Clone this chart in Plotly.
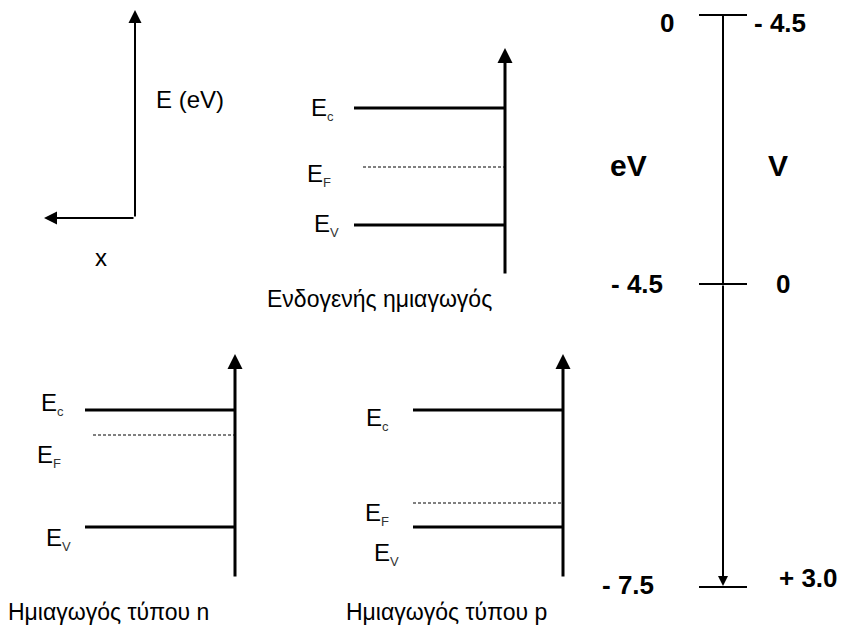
import plotly.graph_objects as go

W, H = 842, 632
FONT = "Liberation Sans, Arial, sans-serif"

# ---- reference axes (top-left) ----
ref_origin = (135, 218)
ref_y_tip = 10
ref_x_tip = 44
ref_labels = ["E (eV)", "x"]
ref_label_pos = [(154, 99), (101, 257)]

# ---- band diagrams ----
panel_captions = ["Ενδογενής ημιαγωγός", "Ημιαγωγός τύπου n", "Ημιαγωγός τύπου p"]
panel_axis_x = [505, 235, 563]
panel_axis_top = [48, 354, 354]
panel_axis_bottom = [275, 578, 578]
panel_level_x0 = [354, 85, 413]
panel_ef_x0 = [363, 93, 413]
Ec_levels = [108, 410, 410]
EF_levels = [167, 435, 503]
Ev_levels = [225, 527, 527]
caption_pos = [(379, 299), (108, 612), (446, 612)]
# label anchors (left of "E", vertical centre of "E")
Ec_label_pos = [(309, 105), (39, 400), (364, 415)]
EF_label_pos = [(305, 171), (35, 452), (363, 510)]
Ev_label_pos = [(312, 221), (44, 535), (372, 550)]
level_names = ["c", "F", "V"]

# ---- energy / potential scale (right) ----
scale_x = 723
scale_top = 15
scale_bottom = 586
scale_tick_y = [15, 284, 587]
scale_tick_half = 24
eV_ticks = ["0", "- 4.5", "- 7.5"]
V_ticks = ["- 4.5", "0", "+ 3.0"]
eV_tick_x = [667, 637, 628]
V_tick_x = [780, 783, 808]
eV_tick_label_y = [23, 284, 585]
V_tick_label_y = [23, 284, 578]
scale_titles = ["eV", "V"]
scale_title_pos = [(628, 165), (778, 165)]

fig = go.Figure()
ann = []


def line(xs, ys, width=2, dash="solid"):
    fig.add_trace(go.Scatter(x=xs, y=ys, mode="lines",
                             line=dict(color="black", width=width, dash=dash),
                             hoverinfo="skip", showlegend=False))


def arrow(x0, y0, x1, y1, width=2, size=1.0):
    ann.append(dict(x=x1, y=y1, ax=x0, ay=y0, xref="x", yref="y", axref="x", ayref="y",
                    showarrow=True, arrowhead=2, arrowsize=size, arrowwidth=width,
                    arrowcolor="black", standoff=0, startstandoff=0, text=""))


def text(x, y, s, size=22, bold=False, xanchor="center", yanchor="middle"):
    ann.append(dict(x=x, y=y, xref="x", yref="y", text=("<b>%s</b>" % s) if bold else s,
                    showarrow=False, xanchor=xanchor, yanchor=yanchor,
                    font=dict(family=FONT, size=size, color="black")))


# reference axes
ox, oy = ref_origin
arrow(ox, oy, ox, ref_y_tip, width=2, size=1.3)
arrow(ox, oy, ref_x_tip, oy, width=2, size=1.3)
text(ref_label_pos[0][0], ref_label_pos[0][1], ref_labels[0], size=24, xanchor="left")
text(ref_label_pos[1][0], ref_label_pos[1][1], ref_labels[1], size=24)

# panels
for i in range(3):
    ax_x = panel_axis_x[i]
    arrow(ax_x, panel_axis_bottom[i], ax_x, panel_axis_top[i], width=3, size=1.0)
    line([panel_level_x0[i], ax_x], [Ec_levels[i], Ec_levels[i]], width=3)
    line([panel_level_x0[i], ax_x], [Ev_levels[i], Ev_levels[i]], width=3)
    line([panel_ef_x0[i], ax_x], [EF_levels[i], EF_levels[i]], width=1, dash="3px,2px")
    for pos, sub in zip([Ec_label_pos[i], EF_label_pos[i], Ev_label_pos[i]], level_names):
        text(pos[0], pos[1] + 4,
             "E<sub><span style='font-size:13px;color:#333'>%s</span></sub>" % sub,
             size=24, xanchor="left")
    text(caption_pos[i][0], caption_pos[i][1], panel_captions[i], size=23)

# right scale
line([scale_x, scale_x], [scale_top, scale_tick_y[1]], width=2)
arrow(scale_x, scale_tick_y[1], scale_x, scale_bottom, width=2, size=1.0)
for j, ty in enumerate(scale_tick_y):
    line([scale_x - scale_tick_half, scale_x + scale_tick_half], [ty, ty], width=2)
    text(eV_tick_x[j], eV_tick_label_y[j], eV_ticks[j], size=26, bold=True)
    text(V_tick_x[j], V_tick_label_y[j], V_ticks[j], size=26, bold=True)
for (tx, ty), s in zip(scale_title_pos, scale_titles):
    text(tx, ty, s, size=30, bold=True)

fig.update_layout(
    width=W, height=H, margin=dict(l=0, r=0, t=0, b=0),
    paper_bgcolor="white", plot_bgcolor="white", showlegend=False,
    xaxis=dict(range=[0, W], visible=False, fixedrange=True),
    yaxis=dict(range=[H, 0], visible=False, fixedrange=True),
    annotations=ann,
)
fig.write_html("out.html", config={"displayModeBar": False})
